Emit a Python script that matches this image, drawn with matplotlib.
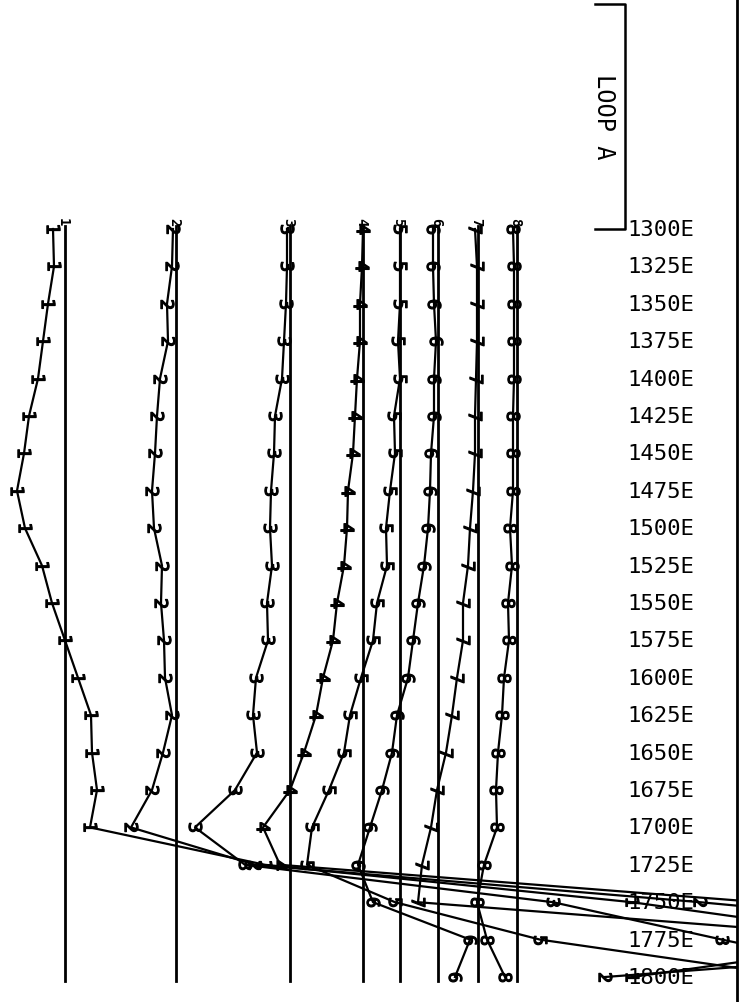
import matplotlib
matplotlib.use("Agg")
import matplotlib.pyplot as plt
from matplotlib.markers import MarkerStyle
from matplotlib.transforms import Affine2D

# stations along the line (m east)
stations = list(range(1300, 1801, 25))
station_labels = [f"{s}E" for s in stations]

channels = [1, 2, 3, 4, 5, 6, 7, 8]

# readings per channel (plot units, positive = deflection to the left of the channel base line)
ch1 = [12, 11, 17, 22, 27, 36, 41, 48, 40, 23, 13, 0, -13, -26, -27, -32, -25, -200, -567, -835, -567]
ch2 = [3, 4, 9, 8, 16, 19, 21, 24, 22, 14, 15, 12, 11, 4, 13, 24, 45, -79, -524, -924, -429]
ch3 = [3, 3, 4, 6, 8, 15, 16, 19, 20, 18, 23, 22, 34, 37, 33, 55, 95, 45, -263, -432, -610]
ch4 = [0, 1, 3, 3, 6, 8, 10, 15, 16, 19, 26, 30, 40, 47, 59, 73, 100, 83, -397, -637, -637]
ch5 = [0, 0, 0, 2, 0, 6, 5, 10, 14, 13, 23, 27, 39, 50, 56, 71, 88, 93, 5, -140, -400]
ch6 = [5, 5, 4, 2, 4, 4, 7, 8, 10, 14, 20, 25, 30, 41, 46, 56, 68, 80, 65, -32, -17]
ch7 = [3, 1, 1, 1, 2, 3, 3, 5, 8, 10, 15, 15, 21, 26, 32, 41, 47, 56, 60, -422, -322]
ch8 = [4, 3, 3, 3, 3, 4, 4, 4, 7, 5, 9, 8, 13, 15, 19, 21, 20, 33, 40, 30, 12]
readings = [ch1, ch2, ch3, ch4, ch5, ch6, ch7, ch8]

# base line of each channel (plot units from the left edge)
base = [65, 176, 290, 363, 400, 438, 478, 517]

fig = plt.figure(figsize=(7.49, 10.03), dpi=100)
ax = fig.add_axes([0, 0, 737 / 749, 1])
ax.set_xlim(0, 737)
px = 1.496  # pixels per metre along the line
ax.set_ylim(1300 + (1003 - 230) / px, 1300 - 230 / px)
for side in ["left", "top", "bottom"]:
    ax.spines[side].set_visible(False)
ax.spines["right"].set_linewidth(2.0)
ax.set_xticks([])
ax.set_yticks([])

rot = Affine2D().rotate_deg(-90)
for ch, vals, b in zip(channels, readings, base):
    ax.plot([b, b], [1298, 1803], color="black", lw=2.0)
    xs = [b - v for v in vals]
    ax.plot(xs, stations, color="black", lw=1.6,
            marker=MarkerStyle(f"${ch}$", transform=rot), markersize=9.5,
            markeredgewidth=0.9)
    ax.text(b - 2, 1295, str(ch), rotation=-90, ha="center", va="center",
            fontsize=10, family="DejaVu Sans Mono", fontweight="bold")

for s, lab in zip(stations, station_labels):
    ax.text(627, s, lab, ha="left", va="center", fontsize=16,
            family="DejaVu Sans Mono")

# loop bracket
ytop = 1300 - 225 / px
ax.plot([595, 625, 625, 595], [ytop, ytop, 1300, 1300], color="black", lw=1.8,
        clip_on=False)
ax.text(604, 1300 - 113 / px, "LOOP A", rotation=-90, ha="center", va="center",
        fontsize=17, family="DejaVu Sans Mono")

fig.savefig("out.png", dpi=100)
